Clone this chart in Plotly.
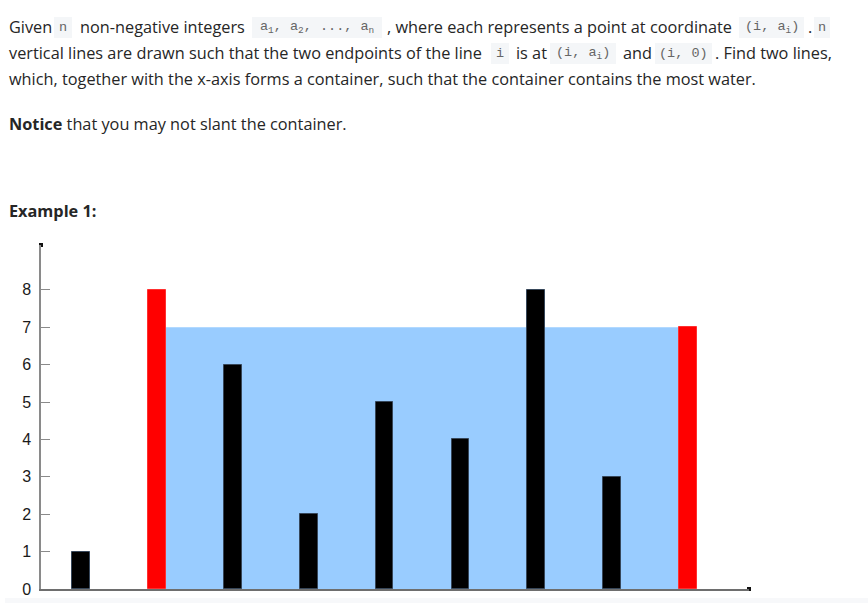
import plotly.graph_objects as go

# ---- data ----
heights = [1, 8, 6, 2, 5, 4, 8, 3, 7]
positions = list(range(1, len(heights) + 1))
y_ticks = [0, 1, 2, 3, 4, 5, 6, 7, 8]

# best container (brute force over the data)
best = (0, 0, 0)
for i in range(len(heights)):
    for j in range(i + 1, len(heights)):
        area = min(heights[i], heights[j]) * (positions[j] - positions[i])
        if area > best[0]:
            best = (area, i, j)
_, li, ri = best
water_level = min(heights[li], heights[ri])

bar_colors = ["#ff0000" if k in (li, ri) else "#000000" for k in range(len(heights))]
line_colors = ["#ff3030" if k in (li, ri) else "#37475a" for k in range(len(heights))]

# ---- layout geometry (pixels) ----
W, H = 868, 603
L, R, T, B = 41, 749, 245, 589
PW, PH = R - L, B - T
BAR_W = 0.235
X_RANGE = [0.476, 9.80]
Y_RANGE = [0, 9.2]


def px(xp):
    return (xp - L) / PW


def py(yp):
    return (B - yp) / PH


fig = go.Figure()

fig.add_trace(go.Bar(
    x=positions, y=heights, width=BAR_W,
    marker=dict(color=bar_colors, line=dict(color=line_colors, width=1)),
    hoverinfo="skip", showlegend=False,
))

# axis end dots
fig.add_trace(go.Scatter(
    x=[X_RANGE[1], X_RANGE[0]], y=[0, Y_RANGE[1]], mode="markers",
    marker=dict(symbol="square", size=4, color="#111111"),
    cliponaxis=False, hoverinfo="skip", showlegend=False,
))

shapes = [
    dict(type="rect", xref="x", yref="y", layer="below",
         x0=positions[li] + BAR_W / 2, x1=positions[ri] - BAR_W / 2,
         y0=0, y1=water_level,
         fillcolor="#99ccff", line=dict(width=0)),
    dict(type="rect", xref="paper", yref="paper", layer="below",
         x0=px(5), x1=px(868), y0=py(598), y1=py(610),
         fillcolor="#f7f8fa", line=dict(width=0)),
]

TEXT_FONT = "Open Sans"
TEXT_SIZE = 16.3
TEXT_COLOR = "#262626"
CODE_FONT = "Liberation Mono"
CODE_COLOR = "#666666"

# text segments: (text, x_left_px, y_center_px)
plain_segments = [
    ("Given", 7, 27),
    ("non-negative integers", 78, 27),
    (", where each represents a point at coordinate", 385, 27),
    (".", 806, 27),
    ("vertical lines are drawn such that the two endpoints of the line", 7, 53),
    ("is at", 514, 53),
    ("and", 621, 53),
    (". Find two lines,", 713, 53),
    ("which, together with the x-axis forms a container, such that the container contains the most water.", 7, 79),
    ("<b>Notice</b> that you may not slant the container.", 7, 124),
    ("<b>Example 1:</b>", 7, 211),
]
# code segments: (text, box_x0, box_x1, box_y0, box_y1)
code_segments = [
    ("n", 54, 72, 17, 38),
    ("a<sub>1</sub>, a<sub>2</sub>, ..., a<sub>n</sub>", 252, 382, 17, 38),
    ("(i, a<sub>i</sub>)", 739, 804, 17, 38),
    ("n", 814, 830, 17, 38),
    ("i", 491, 509, 43, 64),
    ("(i, a<sub>i</sub>)", 550, 616, 43, 64),
    ("(i, 0)", 655, 712, 43, 64),
]

annotations = []
for txt, x0, yc in plain_segments:
    annotations.append(dict(
        text=txt, xref="paper", yref="paper", x=px(x0), y=py(yc),
        xanchor="left", yanchor="middle", showarrow=False, align="left",
        font=dict(family=TEXT_FONT, size=TEXT_SIZE, color=TEXT_COLOR),
    ))

for txt, x0, x1, y0, y1 in code_segments:
    shapes.append(dict(type="rect", xref="paper", yref="paper", layer="below",
                       x0=px(x0), x1=px(x1), y0=py(y1), y1=py(y0),
                       fillcolor="#f4f6f8", line=dict(width=0)))
    annotations.append(dict(
        text=txt, xref="paper", yref="paper", x=px((x0 + x1) / 2), y=py((y0 + y1) / 2),
        xanchor="center", yanchor="middle", showarrow=False,
        font=dict(family=CODE_FONT, size=13.5, color=CODE_COLOR),
    ))

fig.update_layout(
    width=W, height=H,
    margin=dict(l=L, r=W - R, t=T, b=H - B, pad=0, autoexpand=False),
    paper_bgcolor="white", plot_bgcolor="white",
    shapes=shapes, annotations=annotations,
    bargap=0,
    xaxis=dict(range=X_RANGE, showline=True, linecolor="#6e6e6e", linewidth=1.5,
               showgrid=False, zeroline=False, showticklabels=False, ticks="",
               automargin=False),
    yaxis=dict(range=Y_RANGE, showline=True, linecolor="#8a8a8a", linewidth=1.5,
               showgrid=False, zeroline=False, tickvals=y_ticks,
               ticks="inside", ticklen=9, tickwidth=1, tickcolor="#8a8a8a",
               ticklabelstandoff=5, automargin=False,
               tickfont=dict(family="Liberation Sans", size=16, color="#1a1a1a")),
)

fig.write_html(
    "out.html",
    config={"displayModeBar": False},
    post_script="document.body.style.margin='0';document.body.style.overflow='hidden';",
)
